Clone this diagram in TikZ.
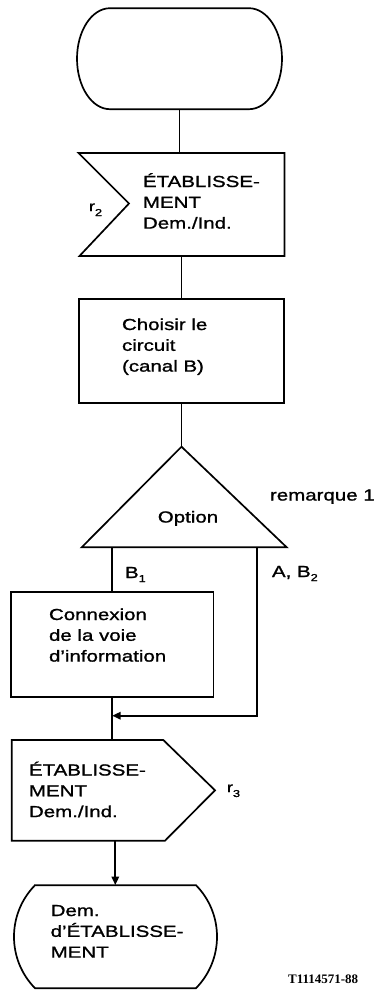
\documentclass[tikz,border=0pt]{standalone}
\usepackage{fontspec}
\setmainfont{Liberation Sans}[FakeStretch=1.28, FakeBold=1.2]
\newfontfamily\codefont{Liberation Serif}
\usetikzlibrary{arrows.meta}
\begin{document}
\begin{tikzpicture}[x=1pt,y=1pt,
  line width=1.7pt, line join=miter,
  ghost/.style={inner sep=0pt, outer sep=0pt, draw=none},
  box/.style={draw, inner sep=0pt, outer sep=0pt},
  txt/.style={inner sep=0pt, outer sep=0pt, align=left, anchor=north west,
              font=\fontsize{16}{20.8}\selectfont},
  lbl/.style={inner sep=0pt, outer sep=0pt, anchor=base west,
              font=\fontsize{16}{20}\selectfont},
  arr/.style={-{Triangle[length=8.5pt,width=7.5pt]}}]
\useasboundingbox (0,0) rectangle (377,-991);

% start terminal
\node[ghost, minimum width=205pt, minimum height=101pt] (start) at (179.5,-58.7) {};
\draw (110,-8.2) -- (249,-8.2)
  arc[start angle=90, end angle=-90, x radius=33, y radius=50.5]
  -- (110,-109.2)
  arc[start angle=270, end angle=90, x radius=33, y radius=50.5] -- cycle;

% input signal r2
\node[ghost, minimum width=206pt, minimum height=103pt] (in1) at (181.5,-204.5) {};
\draw (78.5,-153) -- (284.5,-153) -- (284.5,-256) -- (79.5,-256) -- (129,-203.5) -- cycle;
\node[txt] (in1t) at (143,-171) {\rule{0pt}{16pt}ÉTABLISSE-\\MENT\\Dem./Ind.};
\node[lbl] (r2) at (89,-211) {{\fontsize{14}{14}\selectfont r}\raisebox{-5pt}{\fontsize{10}{10}\selectfont 2}};

% task
\node[box, minimum width=205pt, minimum height=104pt] (choose) at (181.5,-351) {};
\node[txt] (chooset) at (122,-314) {\rule{0pt}{16pt}Choisir le\\circuit\\(canal B)};

% decision
\node[ghost, minimum width=205pt, minimum height=100.6pt] (opt) at (184.2,-497) {};
\draw (181.5,-446.7) -- (286.7,-547.3) -- (81.7,-547.3) -- cycle;
\node[lbl, anchor=base] (optt) at (188,-522.5) {Option};
\node[lbl] (rem) at (270,-500.5) {remarque 1};
\node[lbl] (b1) at (125,-578) {B\raisebox{-4pt}{\fontsize{10}{10}\selectfont 1}};
\node[lbl] (ab2) at (272,-577) {A, B\raisebox{-4pt}{\fontsize{10}{10}\selectfont 2}};

% connexion task
\node[box, minimum width=202.3pt, minimum height=104.4pt] (conn) at (112.2,-644.5) {};
\node[txt] (connt) at (49,-604) {\rule{0pt}{16pt}Connexion\\de la voie\\d’information};

% output signal r3
\node[ghost, minimum width=203.3pt, minimum height=100.7pt] (out) at (113.3,-790.3) {};
\draw (11.7,-740) -- (163.3,-740) -- (215,-790.3) -- (165,-840.7) -- (11.7,-840.7) -- cycle;
\node[txt] (outt) at (29,-759.5) {\rule{0pt}{16pt}ÉTABLISSE-\\MENT\\Dem./Ind.};
\node[lbl] (r3) at (227,-792) {{\fontsize{14}{14}\selectfont r}\raisebox{-5pt}{\fontsize{10}{10}\selectfont 3}};

% end state
\node[ghost, minimum width=202.7pt, minimum height=103.3pt] (end) at (115.3,-936.7) {};
\draw (35,-885.2) -- (196,-885.2)
  arc[start angle=44.4, end angle=-44.4, radius=73.6]
  -- (35,-988.2)
  arc[start angle=224.4, end angle=135.6, radius=73.6] -- cycle;
\node[txt] (endt) at (50.7,-900) {\rule{0pt}{16pt}Dem.\\d’ÉTABLISSE-\\MENT};

\node[inner sep=0pt, anchor=base east, font=\fontsize{13}{13}\selectfont\codefont\bfseries] (code) at (359,-983) {T1114571-88};

% connectors
\draw (start.south) -- (start.south |- in1.north);
\draw (in1.south) -- (in1.south |- choose.north);
\draw (choose.south) -- (choose.south |- opt.north);
\draw (opt.south -| conn.north) -- (conn.north);
\coordinate (rb) at (257.3,-547.3);
\coordinate (merge) at (112.2,-715.7);
\draw[arr] (rb) |- (merge);
\draw (conn.south) -- (conn.south |- out.north);
\draw[arr] (end.north |- out.south) -- (end.north);
\end{tikzpicture}
\end{document}
